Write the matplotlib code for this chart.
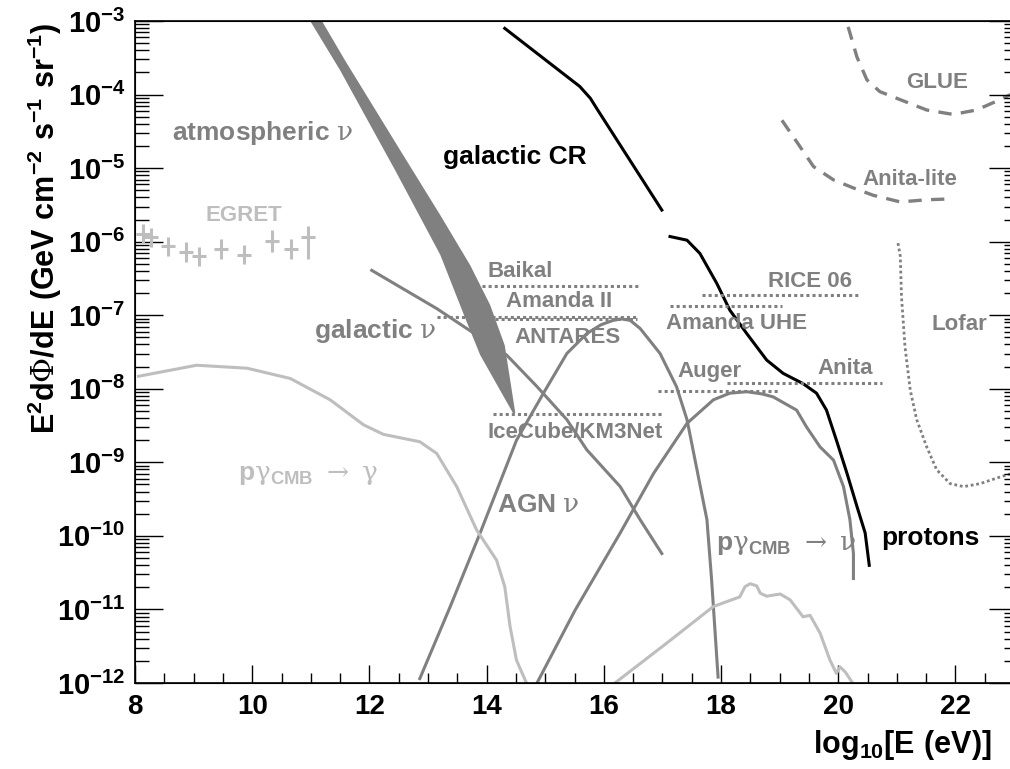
import numpy as np
import matplotlib
matplotlib.use('Agg')
import matplotlib.pyplot as plt
from matplotlib.ticker import FixedLocator, FixedFormatter, MultipleLocator, LogLocator, NullFormatter

plt.rcParams['font.family'] = ['Liberation Sans', 'DejaVu Sans']
plt.rcParams['font.weight'] = 'bold'
plt.rcParams['mathtext.fontset'] = 'custom'
plt.rcParams['mathtext.rm'] = 'DejaVu Serif:weight=normal'
plt.rcParams['mathtext.it'] = 'DejaVu Serif:weight=normal'
plt.rcParams['mathtext.bf'] = 'Liberation Sans:weight=bold'
plt.rcParams['mathtext.sf'] = 'Liberation Sans:weight=bold'

# all fluxes as log10(E^2 dPhi/dE), energies as log10(E/eV)
atm_lo_x = [10.99, 11.50, 12.44, 13.21, 13.65, 13.89, 14.45]
atm_lo_y = [-3.0, -3.67, -5.03, -6.18, -7.07, -7.54, -8.33]
atm_hi_x = [11.19, 11.58, 12.52, 13.21, 13.72, 14.06, 14.31, 14.49]
atm_hi_y = [-3.0, -3.53, -4.75, -5.64, -6.32, -6.86, -7.41, -8.33]

gcr_x = [14.31, 15.59, 15.77, 15.88, 16.99]
gcr_y = [-3.10, -3.89, -4.05, -4.19, -5.57]

prot_x = [17.13, 17.42, 17.64, 17.93, 18.15, 18.44, 18.78, 19.06, 19.40, 19.63,
          19.80, 19.97, 20.15, 20.32, 20.46, 20.53]
prot_y = [-5.93, -5.98, -6.16, -6.57, -6.93, -7.25, -7.61, -7.79, -7.93, -8.06,
          -8.29, -8.70, -9.15, -9.60, -9.96, -10.40]

galnu_x = [12.04, 13.15, 13.66, 14.34, 14.86, 15.37, 15.71, 16.28, 16.62, 16.99]
galnu_y = [-6.39, -6.91, -7.18, -7.54, -7.97, -8.42, -8.83, -9.33, -9.78, -10.24]

agn_x = [12.86, 13.38, 13.89, 14.51, 14.97, 15.37, 15.71, 15.95, 16.16, 16.30,
         16.45, 16.62, 16.96, 17.24, 17.42, 17.59, 17.76, 17.84, 17.95]
agn_y = [-11.94, -10.96, -9.96, -8.70, -8.06, -7.52, -7.25, -7.13, -7.07, -7.05,
         -7.07, -7.18, -7.52, -7.97, -8.42, -9.10, -9.78, -10.60, -11.92]

gzknu_x = [14.86, 15.51, 16.28, 16.85, 17.42, 17.87, 18.15, 18.44, 18.70, 18.89,
           19.29, 19.46, 19.69, 19.92, 20.09, 20.20, 20.26, 20.26]
gzknu_y = [-12.0, -11.01, -9.96, -9.15, -8.47, -8.15, -8.06, -8.04, -8.07, -8.11,
           -8.29, -8.52, -8.79, -8.97, -9.33, -9.78, -10.24, -10.58]

gzkg_x = [8.06, 9.05, 9.91, 10.65, 11.33, 11.90, 12.24, 12.86, 13.15, 13.49,
          13.83, 14.17, 14.31, 14.40, 14.51, 14.68]
gzkg_y = [-7.83, -7.68, -7.72, -7.86, -8.15, -8.49, -8.62, -8.72, -8.88, -9.33,
          -9.92, -10.33, -10.69, -11.23, -11.69, -12.0]

pg_x = [16.19, 17.07, 17.87, 18.32, 18.41, 18.50, 18.61, 18.67, 18.78, 19.01,
        19.18, 19.40, 19.52, 19.69, 19.86, 19.97, 20.03, 20.12, 20.23]
pg_y = [-12.0, -11.46, -10.96, -10.83, -10.69, -10.65, -10.68, -10.78, -10.82, -10.79,
        -10.87, -11.10, -11.08, -11.32, -11.69, -11.87, -11.78, -11.85, -11.98]

glue_x = [20.17, 20.32, 20.49, 20.71, 21.06, 21.51, 21.96, 22.36, 22.76, 22.97]
glue_y = [-3.08, -3.49, -3.80, -3.96, -4.07, -4.21, -4.27, -4.21, -4.07, -3.99]

alite_x = [19.04, 19.35, 19.58, 19.92, 20.26, 20.60, 21.06, 21.51, 21.88]
alite_y = [-4.35, -4.71, -4.98, -5.16, -5.27, -5.37, -5.46, -5.43, -5.42]

lofar_x = [21.02, 21.06, 21.08, 21.14, 21.23, 21.34, 21.51, 21.68, 21.91, 22.14,
           22.42, 22.76, 22.97]
lofar_y = [-6.02, -6.20, -6.75, -7.43, -8.02, -8.42, -8.79, -9.10, -9.29, -9.33,
           -9.29, -9.20, -9.15]

# horizontal sensitivity limits: E range and flux level
lim_names = ['Baikal', 'Amanda II', 'ANTARES', 'IceCube/KM3Net', 'Amanda UHE',
             'RICE 06', 'Auger', 'Anita']
lim_emin = [13.92, 13.15, 14.14, 14.11, 17.13, 17.67, 16.93, 18.10]
lim_emax = [16.58, 16.55, 16.57, 16.99, 19.04, 20.37, 19.01, 20.74]
lim_flux = [-6.60, -7.02, -7.05, -8.34, -6.88, -6.73, -8.03, -7.92]

egret_x = [8.14, 8.28, 8.57, 8.87, 9.10, 9.46, 9.86, 10.34, 10.67, 10.95]
egret_y = [-5.89, -5.94, -6.06, -6.14, -6.20, -6.10, -6.18, -5.99, -6.10, -5.94]
egret_up = [0.13, 0.13, 0.13, 0.13, 0.13, 0.13, 0.13, 0.15, 0.13, 0.15]
egret_dn = [0.13, 0.13, 0.13, 0.13, 0.13, 0.13, 0.13, 0.15, 0.13, 0.30]

dark = '#808080'
light = '#bebebe'

fig = plt.figure(figsize=(10.10, 7.69), dpi=100)
ax = fig.add_axes([135 / 1010, 86 / 769, 879 / 1010, 662 / 769])

ax.fill(np.concatenate([atm_lo_x, atm_hi_x[::-1]]),
        10 ** np.concatenate([atm_lo_y, atm_hi_y[::-1]]), color=dark, lw=0)

lw = 2.2
ax.plot(gcr_x, 10 ** np.array(gcr_y), color='black', lw=lw)
ax.plot(prot_x, 10 ** np.array(prot_y), color='black', lw=lw)
ax.plot(galnu_x, 10 ** np.array(galnu_y), color=dark, lw=lw)
ax.plot(agn_x, 10 ** np.array(agn_y), color=dark, lw=lw)
ax.plot(gzknu_x, 10 ** np.array(gzknu_y), color=dark, lw=lw)
ax.plot(gzkg_x, 10 ** np.array(gzkg_y), color=light, lw=lw)
ax.plot(pg_x, 10 ** np.array(pg_y), color=light, lw=lw)

ax.plot(glue_x, 10 ** np.array(glue_y), color=dark, lw=2.4, ls=(0, (4, 2.8)))
ax.plot(alite_x, 10 ** np.array(alite_y), color=dark, lw=2.4, ls=(0, (4, 2.8)))
ax.plot(lofar_x, 10 ** np.array(lofar_y), color=dark, lw=2.0, ls=(0, (1, 1)),
        dash_capstyle='butt')

for e0, e1, f in zip(lim_emin, lim_emax, lim_flux):
    ax.plot([e0, e1], [10 ** f, 10 ** f], color=dark, lw=2.2, ls=(0, (1, 1)),
            dash_capstyle='butt')

ey = 10 ** np.array(egret_y)
ax.errorbar(egret_x, ey, xerr=0.12,
            yerr=[ey - 10 ** (np.array(egret_y) - egret_dn),
                  10 ** (np.array(egret_y) + egret_up) - ey],
            fmt='none', ecolor=light, elinewidth=2.2, capsize=0)

ax.set_xlim(8, 23)
ax.set_yscale('log')
ax.set_ylim(1e-12, 1e-3)

# labels
big = 19
small = 16
def lab(x, ly, s, c, size):
    ax.text(x, 10 ** ly, s, color=c, fontsize=size, fontweight='bold',
            ha='left', va='center')

lab(8.63, -4.52, r'atmospheric $\mathrm{\nu}$', dark, big)
lab(13.25, -4.85, 'galactic CR', 'black', big)
lab(9.20, -5.64, 'EGRET', light, small)
lab(14.02, -6.40, 'Baikal', dark, small)
lab(14.33, -6.81, 'Amanda II', dark, small)
lab(14.47, -7.30, 'ANTARES', dark, small)
lab(14.01, -8.59, 'IceCube/KM3Net', dark, small)
lab(11.05, -7.21, r'galactic $\mathrm{\nu}$', dark, big)
lab(14.18, -9.58, r'AGN $\mathrm{\nu}$', dark, big)
lab(9.76, -9.17, r'p$\mathrm{\gamma}_{\mathbf{CMB}}\ \rightarrow\ \mathrm{\gamma}$', light, big)
lab(17.92, -10.12, r'p$\mathrm{\gamma}_{\mathbf{CMB}}\ \rightarrow\ \mathrm{\nu}$', dark, big)
lab(20.74, -10.03, 'protons', 'black', big)
lab(17.06, -7.11, 'Amanda UHE', dark, small)
lab(18.80, -6.54, 'RICE 06', dark, small)
lab(17.25, -7.77, 'Auger', dark, small)
lab(19.64, -7.72, 'Anita', dark, small)
lab(21.16, -3.83, 'GLUE', dark, small)
lab(20.41, -5.16, 'Anita-lite', dark, small)
lab(21.60, -7.13, 'Lofar', dark, small)

# axes styling
ydec = [-12, -11, -10, -9, -8, -7, -6, -5, -4, -3]
ax.yaxis.set_major_locator(FixedLocator([10.0 ** d for d in ydec]))
ax.yaxis.set_major_formatter(FixedFormatter([r'$\mathbf{10^{%d}}$' % d for d in ydec]))
ax.yaxis.set_minor_locator(LogLocator(base=10, subs=np.arange(2, 10), numticks=100))
ax.yaxis.set_minor_formatter(NullFormatter())
ax.xaxis.set_major_locator(MultipleLocator(2))
ax.xaxis.set_minor_locator(MultipleLocator(0.5))

ax.tick_params(axis='y', which='major', direction='in', length=20, width=1,
               labelsize=21, pad=7, right=False)
ax.tick_params(axis='y', which='minor', direction='in', length=10, width=1, right=False)
ax.tick_params(axis='x', which='major', direction='in', length=13, width=1,
               labelsize=20, pad=8, top=False)
ax.tick_params(axis='x', which='minor', direction='in', length=7, width=1, top=False)
for lbl in ax.get_xticklabels():
    lbl.set_fontweight('bold')
for sp in ax.spines.values():
    sp.set_linewidth(1.2)

ax2 = ax.twinx()
ax2.set_yscale('log')
ax2.set_ylim(1e-12, 1e-3)
ax2.yaxis.set_major_locator(FixedLocator([10.0 ** d for d in ydec]))
ax2.yaxis.set_minor_locator(LogLocator(base=10, subs=np.arange(2, 10), numticks=100))
ax2.tick_params(axis='y', which='major', direction='in', length=18, width=1, labelright=False)
ax2.tick_params(axis='y', which='minor', direction='in', length=7, width=1, labelright=False)

fig.text(45 / 1010, 1 - 228 / 769,
         r'$\mathbf{E^{2}d}\Phi\mathbf{/dE\ (GeV\ cm^{-2}\ s^{-1}\ sr^{-1})}$',
         rotation=90, ha='center', va='center', fontsize=22)
fig.text(992 / 1010, 1 - 745 / 769, r'$\mathbf{log_{10}[E\ (eV)]}$',
         ha='right', va='center', fontsize=22)

fig.savefig('out.png', dpi=100)
